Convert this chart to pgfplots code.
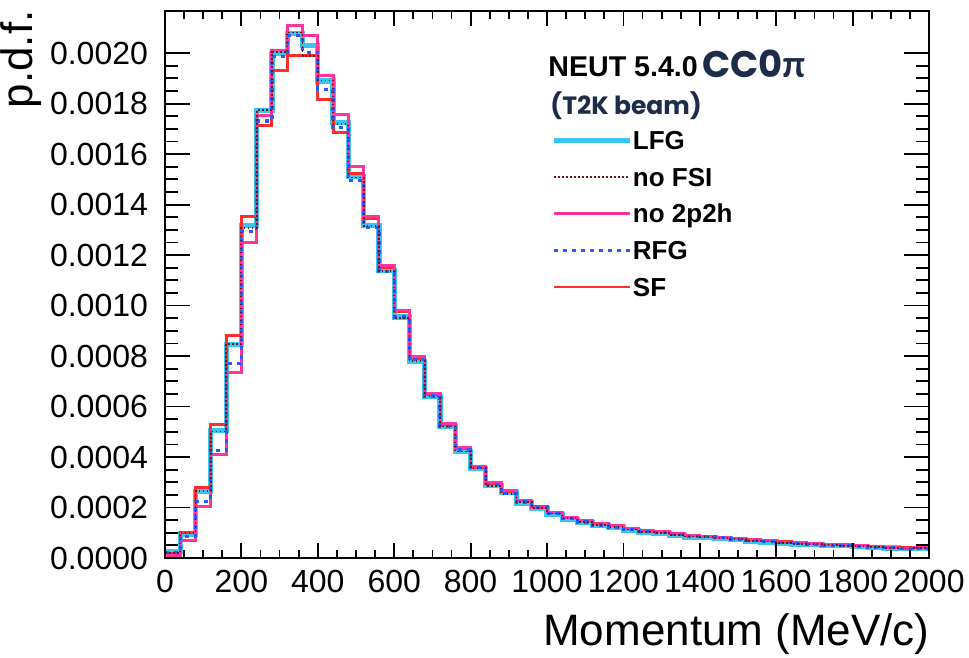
\documentclass[border=0pt]{standalone}
\usepackage{fontspec}
\setmainfont{Liberation Sans}
\newfontfamily\pop{Poppins}
\newfontfamily\pifont{Lato}
\usepackage{pgfplots}
\usepackage{pgfplotstable}
\pgfplotsset{compat=1.18}
\definecolor{cLFG}{RGB}{56,197,240}
\definecolor{cFSI}{RGB}{110,25,25}
\definecolor{cNo2}{RGB}{255,51,153}
\definecolor{cRFG}{RGB}{40,90,255}
\definecolor{cSF}{RGB}{255,45,45}
\definecolor{navy}{RGB}{28,44,74}

% bin left edges (MeV/c), bin width 40; last row closes the last bin
\pgfplotstableread{
x     lfg      nofsi    no2p2h   rfg      sf
0     0.000026 0.000020 0.000009 0.000022 0.000017
40    0.000095 0.000100 0.000070 0.000086 0.000101
80    0.000262 0.000267 0.000204 0.000224 0.000281
120   0.000505 0.000501 0.000410 0.000426 0.000528
160   0.000845 0.000848 0.000735 0.000769 0.000881
200   0.001318 0.001308 0.001249 0.001295 0.001354
240   0.001772 0.001775 0.001754 0.001731 0.001712
280   0.002000 0.002005 0.002009 0.001987 0.001930
320   0.002078 0.002082 0.002111 0.002069 0.001990
360   0.002030 0.001990 0.002071 0.002003 0.001990
400   0.001890 0.001892 0.001910 0.001857 0.001817
440   0.001725 0.001718 0.001758 0.001705 0.001685
480   0.001510 0.001507 0.001550 0.001494 0.001525
520   0.001318 0.001315 0.001354 0.001310 0.001345
560   0.001138 0.001136 0.001159 0.001135 0.001150
600   0.000955 0.000952 0.000981 0.000955 0.000975
640   0.000780 0.000779 0.000798 0.000785 0.000792
680   0.000640 0.000640 0.000650 0.000642 0.000648
720   0.000520 0.000521 0.000534 0.000522 0.000530
760   0.000422 0.000422 0.000436 0.000428 0.000432
800   0.000354 0.000356 0.000362 0.000360 0.000360
840   0.000288 0.000286 0.000298 0.000290 0.000296
880   0.000258 0.000252 0.000266 0.000255 0.000264
920   0.000218 0.000222 0.000226 0.000222 0.000226
960   0.000195 0.000198 0.000202 0.000200 0.000203
1000  0.000173 0.000176 0.000180 0.000176 0.000181
1040  0.000153 0.000157 0.000160 0.000157 0.000162
1080  0.000140 0.000143 0.000147 0.000143 0.000149
1120  0.000129 0.000132 0.000136 0.000131 0.000137
1160  0.000120 0.000122 0.000127 0.000121 0.000127
1200  0.000110 0.000113 0.000116 0.000112 0.000117
1240  0.000101 0.000104 0.000107 0.000104 0.000108
1280  0.000098 0.000100 0.000104 0.000100 0.000104
1320  0.000090 0.000092 0.000096 0.000093 0.000096
1360  0.000082 0.000085 0.000088 0.000086 0.000088
1400  0.000080 0.000082 0.000087 0.000084 0.000086
1440  0.000076 0.000078 0.000083 0.000080 0.000082
1480  0.000072 0.000074 0.000079 0.000074 0.000078
1520  0.000066 0.000068 0.000072 0.000068 0.000072
1560  0.000063 0.000065 0.000069 0.000064 0.000069
1600  0.000058 0.000060 0.000063 0.000060 0.000064
1640  0.000055 0.000056 0.000060 0.000056 0.000060
1680  0.000054 0.000055 0.000059 0.000055 0.000058
1720  0.000050 0.000051 0.000053 0.000051 0.000054
1760  0.000048 0.000049 0.000052 0.000049 0.000052
1800  0.000046 0.000047 0.000049 0.000047 0.000049
1840  0.000042 0.000044 0.000045 0.000043 0.000045
1880  0.000040 0.000041 0.000042 0.000041 0.000042
1920  0.000037 0.000038 0.000039 0.000038 0.000040
1960  0.000038 0.000039 0.000040 0.000039 0.000041
2000  0.000038 0.000039 0.000040 0.000039 0.000041
}\histdata

\begin{document}
\begin{tikzpicture}
\path[use as bounding box] (-82.5pt,-50pt) rectangle (402pt,279pt);
\begin{axis}[
  at={(0,0)}, anchor=south west,
  scale only axis, width=382pt, height=273.5pt,
  xmin=0, xmax=2000, ymin=0, ymax=0.002167,
  xtick={0,200,...,2000}, minor x tick num=3,
  ytick={0,0.0002,0.0004,0.0006,0.0008,0.001,0.0012,0.0014,0.0016,0.0018,0.002},
  minor y tick num=3,
  scaled y ticks=false, scaled x ticks=false,
  xticklabel={\pgfmathprintnumber[assume math mode=true,1000 sep={}]{\tick}},
  yticklabel={\pgfmathprintnumber[fixed,fixed zerofill,precision=4,assume math mode=true]{\tick}},
  /pgf/number format/assume math mode=true,
  tick label style={font=\fontsize{16}{16}\selectfont},
  xticklabel style={yshift=-2.5pt},
  yticklabel style={xshift=-5pt},
  tick align=inside,
  tick style={black, line width=0.9pt},
  xtick style={/pgfplots/major tick length=7.5pt, /pgfplots/minor tick length=4pt},
  ytick style={/pgfplots/major tick length=12.5pt, /pgfplots/minor tick length=6.5pt},
  axis line style={line width=1pt},
  axis on top,
  legend image code/.code={\draw[#1] (0pt,0pt) -- (32.5pt,0pt); \path (0pt,0pt) -- (38pt,0pt);},
  legend cell align=left,
  legend style={at={(0.5065,0.786)}, anchor=north west, draw=none, fill=none,
    inner sep=0pt, outer sep=0pt, row sep=6.35pt, column sep=0pt,
    font=\bfseries\fontsize{13}{13}\selectfont,
    nodes={inner sep=0pt, text height=10.65pt, text depth=1.35pt}},
]
\addplot[const plot mark left, color=cLFG, line width=2.6pt, forget plot] table[x=x,y=lfg]{\histdata};
\addplot[const plot mark left, color=cSF, line width=1.5pt, forget plot] table[x=x,y=sf]{\histdata};
\addplot[const plot mark left, color=cNo2, line width=1.5pt, forget plot] table[x=x,y=no2p2h]{\histdata};
\addplot[const plot mark left, color=cRFG, line width=1.6pt, dash pattern=on 2pt off 2.5pt, forget plot] table[x=x,y=rfg]{\histdata};
\addplot[const plot mark left, color=cFSI, line width=0.9pt, dash pattern=on 0.8pt off 1.2pt, forget plot] table[x=x,y=nofsi]{\histdata};

\addlegendimage{color=cLFG, line width=2.5pt}
\addlegendentry{LFG}
\addlegendimage{color=cFSI, line width=0.9pt, dash pattern=on 0.8pt off 1.2pt}
\addlegendentry{no FSI}
\addlegendimage{color=cNo2, line width=1.2pt}
\addlegendentry{no 2p2h}
\addlegendimage{color=cRFG, line width=1.6pt, dash pattern=on 2pt off 2.5pt}
\addlegendentry{RFG}
\addlegendimage{color=cSF, line width=1.2pt}
\addlegendentry{SF}
\end{axis}
\node[anchor=base east, inner sep=0pt, font=\fontsize{22}{22}\selectfont] at (382.5pt,-44pt) {Momentum (MeV/c)};
\node[rotate=90, anchor=base east, inner sep=0pt, font=\fontsize{22}{22}\selectfont] at (-66pt,274pt) {p.d.f.};
\node[anchor=base west, inner sep=0pt, font=\bfseries\fontsize{14.3}{14.3}\selectfont] at (191.5pt,240.5pt) {NEUT 5.4.0};
\node[anchor=base west, inner sep=0pt, text=navy, font=\pop\bfseries\fontsize{18.5}{18.5}\selectfont] at (268.5pt,240pt) {CC0{\pifont π}};
\node[anchor=base west, inner sep=0pt, text=navy, font=\pop\bfseries\fontsize{12.5}{12.5}\selectfont] at (192.5pt,221.5pt) {(T2K beam)};
\end{tikzpicture}
\end{document}
